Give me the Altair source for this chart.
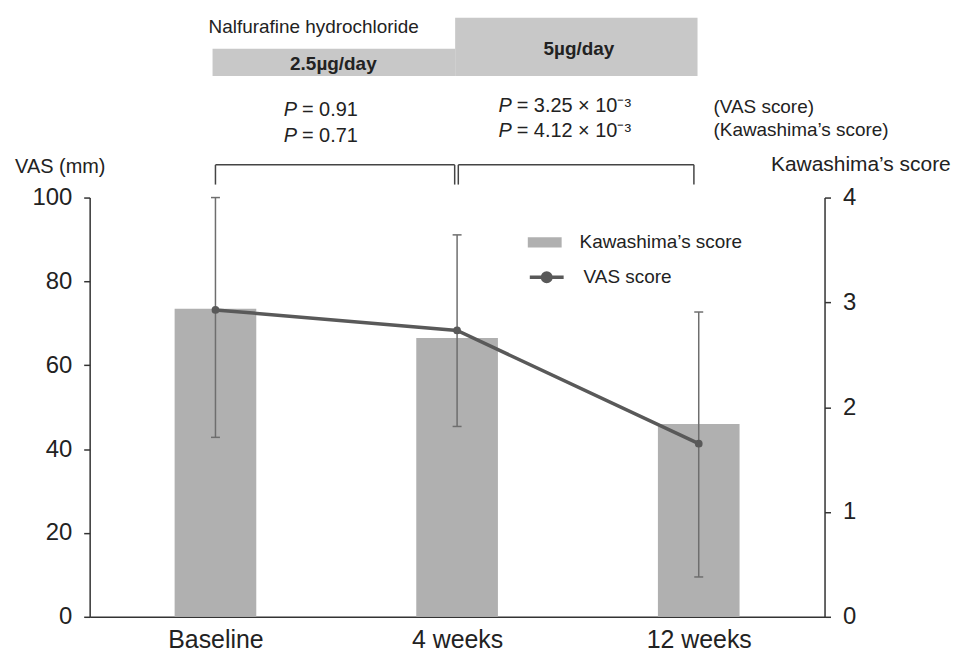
import altair as alt
import pandas as pd

FONT = "Liberation Sans"
TXT = "#222222"

# ---- data ----
categories = ["Baseline", "4 weeks", "12 weeks"]
positions = [0, 1, 2]
kawashima = [2.94, 2.66, 1.84]          # right axis (bars)
vas = [73.2, 68.3, 41.3]                # left axis (line)
vas_low = [42.8, 45.4, 9.5]
vas_high = [100.0, 91.1, 72.7]

# annotation content (x in category units, y in VAS units above the plot)
dose_labels = ["2.5µg/day", "5µg/day"]
dose_x1 = [-0.012, 0.992]
dose_x2 = [0.992, 1.995]
dose_y1 = [129.0, 129.0]
dose_y2 = [135.5, 142.9]
dose_text_x = [0.488, 1.504]
dose_text_y = [131.9, 135.5]

drug_label = ["Nalfurafine hydrochloride"]
drug_x = [0.4065]
drug_y = [140.6]

p_rest = ["= 0.91", "= 0.71", "= 3.25 × 10⁻³", "= 4.12 × 10⁻³"]
p_x = [0.3374, 0.3374, 1.226, 1.226]
p_y = [120.9, 114.75, 121.75, 115.8]

score_labels = ["(VAS score)", "(Kawashima’s score)"]
score_x = [2.061, 2.061]
score_y = [121.6, 116.2]

bracket_x1 = [0.0, 1.005]
bracket_x2 = [0.99, 1.98]
bracket_top = 107.8
bracket_leg = 103.1

df = pd.DataFrame({
    "pos": positions, "cat": categories, "kaw": kawashima,
    "vas": vas, "lo": vas_low, "hi": vas_high,
    "s_bar": "Kawashima’s score", "s_line": "VAS score",
})
dose_df = pd.DataFrame({"x1": dose_x1, "x2": dose_x2, "y1": dose_y1, "y2": dose_y2,
                        "tx": dose_text_x, "ty": dose_text_y, "label": dose_labels})
drug_df = pd.DataFrame({"x": drug_x, "y": drug_y, "label": drug_label})
p_df = pd.DataFrame({"x": p_x, "y": p_y, "rest": p_rest, "P": ["P"] * 4})
score_df = pd.DataFrame({"x": score_x, "y": score_y, "label": score_labels})
br_h = pd.DataFrame({"x1": bracket_x1, "x2": bracket_x2, "y": [bracket_top] * 2})
br_v = pd.DataFrame({"x": bracket_x1 + bracket_x2,
                     "y1": [bracket_leg] * 4, "y2": [bracket_top] * 4})

label_expr = "[" + ",".join("'" + c + "'" for c in categories) + "][datum.value]"


def xs():
    return alt.Scale(domain=[-0.5, 2.5], nice=False, zero=False)


def x_axis():
    return alt.Axis(values=positions, labelExpr=label_expr, ticks=False, grid=False,
                    title=None, labelFontSize=25, labelPadding=11, domainColor="#333333",
                    domainWidth=1.5, labelColor=TXT, labelFont=FONT)


def yl():
    return alt.Scale(domain=[0, 100], nice=False, zero=True)


def X(field):
    return alt.X(field, type="quantitative", scale=xs(), axis=x_axis())


def Y(field):
    return alt.Y(field, type="quantitative", scale=yl(), axis=None)


bars = alt.Chart(df).mark_bar(size=82).encode(
    x=X("pos"),
    y=alt.Y("kaw:Q", scale=alt.Scale(domain=[0, 4], nice=False, zero=True),
            axis=alt.Axis(orient="right", values=[0, 1, 2, 3, 4], grid=False,
                          title="Kawashima’s score", titleAngle=0, titleX=36, titleY=-33,
                          titleAlign="center", titleBaseline="middle", titleFontSize=21,
                          titleFontWeight="normal", titleColor=TXT, titleFont=FONT,
                          labelFontSize=24, labelPadding=12, labelColor=TXT, labelFont=FONT,
                          tickSize=6, tickWidth=1.5, tickColor="#333333",
                          domainColor="#333333", domainWidth=1.5)),
    fill=alt.Fill("s_bar:N", scale=alt.Scale(range=["#b0b0b0"]),
                  legend=alt.Legend(title=None, orient="none", legendX=440, legendY=28,
                                    symbolType="M-1,-0.3L1,-0.3L1,0.3L-1,0.3Z", symbolSize=1156,
                                    symbolStrokeWidth=0, labelFontSize=19, labelFont=FONT,
                                    labelColor=TXT, labelOffset=18, labelLimit=400, padding=0)),
)

line = alt.Chart(df).mark_line(strokeWidth=3.5).encode(
    x=X("pos"),
    y=alt.Y("vas:Q", scale=yl(),
            axis=alt.Axis(orient="left", values=[0, 20, 40, 60, 80, 100], grid=False,
                          title="VAS (mm)", titleAngle=0, titleX=-30, titleY=-31,
                          titleAlign="center", titleBaseline="middle", titleFontSize=20,
                          titleFontWeight="normal", titleColor=TXT, titleFont=FONT,
                          labelFontSize=24, labelPadding=12, labelColor=TXT, labelFont=FONT,
                          tickSize=6, tickWidth=1.5, tickColor="#333333",
                          domainColor="#333333", domainWidth=1.5)),
    stroke=alt.Stroke("s_line:N", scale=alt.Scale(range=["#595959"]),
                      legend=alt.Legend(title=None, orient="none", legendX=440, legendY=61,
                                        symbolType="M-1,0L1,0M0.25,0A0.25,0.25,0,1,1,-0.25,0A0.25,0.25,0,1,1,0.25,0Z",
                                        symbolSize=1156, symbolStrokeWidth=3.5,
                                        symbolFillColor="#595959", labelFontSize=19,
                                        labelFont=FONT, labelColor=TXT, labelOffset=18,
                                        labelLimit=400, padding=0)),
)

err = alt.Chart(df).mark_rule(color="#6e6e6e", strokeWidth=1.5).encode(
    x=X("pos"), y=Y("lo"), y2="hi")
cap_lo = alt.Chart(df).mark_rule(color="#6e6e6e", strokeWidth=1.5, xOffset=-4.5, x2Offset=4.5).encode(
    x=X("pos"), x2="pos", y=Y("lo"))
cap_hi = alt.Chart(df).mark_rule(color="#6e6e6e", strokeWidth=1.5, xOffset=-4.5, x2Offset=4.5).encode(
    x=X("pos"), x2="pos", y=Y("hi"))
points = alt.Chart(df).mark_circle(size=60, color="#595959", opacity=1).encode(
    x=X("pos"), y=Y("vas"))

boxes = alt.Chart(dose_df).mark_rect(color="#c8c8c8").encode(
    x=X("x1"), x2="x2", y=Y("y1"), y2="y2")
box_text = alt.Chart(dose_df).mark_text(font=FONT, fontSize=19, fontWeight="bold", color=TXT,
                                        baseline="middle").encode(
    x=X("tx"), y=Y("ty"), text="label:N")
drug_text = alt.Chart(drug_df).mark_text(font=FONT, fontSize=19, color=TXT, baseline="middle").encode(
    x=X("x"), y=Y("y"), text="label:N")
p_italic = alt.Chart(p_df).mark_text(font=FONT, fontSize=20, fontStyle="italic", color=TXT,
                                     align="right", baseline="middle").encode(
    x=X("x"), y=Y("y"), text="P:N")
p_text = alt.Chart(p_df).mark_text(font=FONT, fontSize=20, color=TXT, align="left",
                                   baseline="middle", dx=5).encode(
    x=X("x"), y=Y("y"), text="rest:N")
score_text = alt.Chart(score_df).mark_text(font=FONT, fontSize=19, color=TXT, align="left",
                                           baseline="middle").encode(
    x=X("x"), y=Y("y"), text="label:N")
br_hr = alt.Chart(br_h).mark_rule(color="#444444", strokeWidth=1.5).encode(
    x=X("x1"), x2="x2", y=Y("y"))
br_vr = alt.Chart(br_v).mark_rule(color="#444444", strokeWidth=1.5).encode(
    x=X("x"), y=Y("y1"), y2="y2")

chart = alt.layer(
    bars, line, err, cap_lo, cap_hi, points, boxes, box_text, drug_text,
    p_italic, p_text, score_text, br_hr, br_vr,
).resolve_scale(y="independent").properties(
    width=738, height=421,
    padding={"left": 6, "top": 8, "right": 0, "bottom": 0},
).configure(font=FONT).configure_view(stroke=None)

chart.save("out.html", embed_options={"renderer": "svg", "actions": False})
